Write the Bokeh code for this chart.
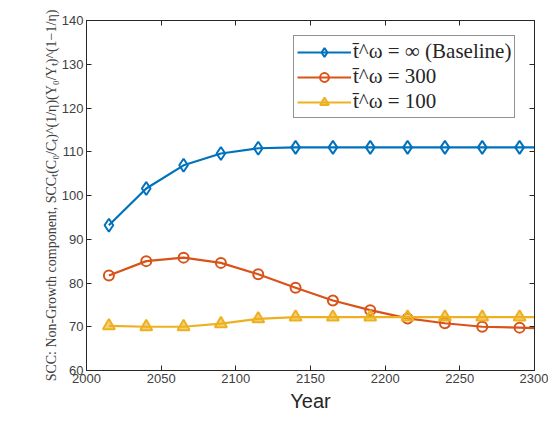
from bokeh.plotting import figure
from bokeh.models import LinearAxis, FixedTicker, CustomJSTickFormatter, Range1d, Legend, LegendItem
from bokeh.embed import file_html
from bokeh.resources import INLINE

# ---- data ----
years = [2015, 2040, 2065, 2090, 2115, 2140, 2165, 2190, 2215, 2240, 2265, 2290]
baseline = [93.2, 101.6, 106.9, 109.6, 110.8, 111.0, 111.0, 111.0, 111.0, 111.0, 111.0, 111.0]
t300 = [81.7, 85.0, 85.8, 84.6, 82.0, 78.9, 76.0, 73.8, 71.9, 70.8, 70.0, 69.8]
t100 = [70.2, 70.0, 70.0, 70.7, 71.8, 72.2, 72.2, 72.2, 72.2, 72.2, 72.2, 72.2]
end_year = 2300
end_baseline = 111.0
end_t300 = 69.7
end_t100 = 72.2

x_ticks = [2000, 2050, 2100, 2150, 2200, 2250, 2300]
y_ticks = [60, 70, 80, 90, 100, 110, 120, 130, 140]
labels = ["t\u0304^\u03c9 = \u221e (Baseline)", "t\u0304^\u03c9 = 300", "t\u0304^\u03c9 = 100"]
y_label = "SCC: Non-Growth component, SCC\u209c(C\u2080/C\u209c)^(1/\u03b7)(Y\u2080/Y\u209c)^(1\u22121/\u03b7)"

BLUE = "#0072BD"
ORANGE = "#D95319"
YELLOW = "#EDB120"
AX = "#262626"

p = figure(width=548, height=419, output_backend="svg", toolbar_location=None,
           x_range=Range1d(2000, 2300), y_range=Range1d(60, 140),
           min_border_left=86, min_border_right=14, min_border_top=20, min_border_bottom=49)
p.background_fill_color = "white"
p.border_fill_color = "white"
p.xgrid.visible = False
p.ygrid.visible = False
p.outline_line_color = AX
p.outline_line_width = 1

for ax, ticks in ((p.xaxis[0], x_ticks), (p.yaxis[0], y_ticks)):
    ax.ticker = FixedTicker(ticks=ticks)
    ax.major_tick_in = 5
    ax.major_tick_out = 0
    ax.minor_tick_in = 0
    ax.minor_tick_out = 0
    ax.axis_line_color = AX
    ax.major_tick_line_color = AX
    ax.major_label_text_color = "#404040"
    ax.major_label_text_font = "Liberation Sans"
    ax.major_label_text_font_size = "13px"
    ax.major_label_standoff = 3

p.xaxis[0].axis_label = "Year"
p.xaxis[0].axis_label_text_font = "Liberation Sans"
p.xaxis[0].axis_label_text_font_style = "normal"
p.xaxis[0].axis_label_text_font_size = "20px"
p.xaxis[0].axis_label_text_color = AX
p.xaxis[0].axis_label_standoff = 4

p.yaxis[0].axis_label = y_label
p.yaxis[0].axis_label_text_font = "Liberation Serif"
p.yaxis[0].axis_label_text_font_style = "normal"
p.yaxis[0].axis_label_text_font_size = "14px"
p.yaxis[0].axis_label_text_color = "#404040"
p.yaxis[0].axis_label_standoff = 0

blank = CustomJSTickFormatter(code="return ''")
top = LinearAxis(ticker=FixedTicker(ticks=x_ticks), formatter=blank,
                 major_tick_in=5, major_tick_out=0, minor_tick_in=0, minor_tick_out=0,
                 axis_line_color=AX, major_tick_line_color=AX, major_label_standoff=0,
                 major_label_text_font_size="1px")
right = LinearAxis(ticker=FixedTicker(ticks=y_ticks), formatter=blank,
                   major_tick_in=5, major_tick_out=0, minor_tick_in=0, minor_tick_out=0,
                   axis_line_color=AX, major_tick_line_color=AX, major_label_standoff=0,
                   major_label_text_font_size="1px")
p.add_layout(top, "above")
p.add_layout(right, "right")

lx = years + [end_year]
l1 = p.line(lx, baseline + [end_baseline], line_color=BLUE, line_width=2.2)
m1 = p.scatter(years, baseline, marker="diamond", size=13, line_color=BLUE, line_width=2,
               fill_color="white", fill_alpha=0.0)
l2 = p.line(lx, t300 + [end_t300], line_color=ORANGE, line_width=2.2)
m2 = p.scatter(years, t300, marker="circle", size=10, line_color=ORANGE, line_width=2,
               fill_color="white", fill_alpha=0.0)
l3 = p.line(lx, t100 + [end_t100], line_color=YELLOW, line_width=2.2)
m3 = p.scatter(years, t100, marker="triangle", size=12, line_color=YELLOW, line_width=2,
               fill_color=YELLOW, fill_alpha=0.6)

legend = Legend(items=[LegendItem(label=labels[0], renderers=[l1, m1]),
                       LegendItem(label=labels[1], renderers=[l2, m2]),
                       LegendItem(label=labels[2], renderers=[l3, m3])],
                location=(207, 252))
legend.label_text_font = "Liberation Serif"
legend.label_text_font_size = "21px"
legend.label_text_color = AX
legend.border_line_color = AX
legend.border_line_width = 1
legend.background_fill_alpha = 1
legend.glyph_width = 54
legend.glyph_height = 22
legend.label_height = 22
legend.spacing = 0
legend.padding = 3
legend.margin = 0
legend.label_standoff = 2
p.add_layout(legend, "center")

open("out.html", "w").write(file_html(p, INLINE))
